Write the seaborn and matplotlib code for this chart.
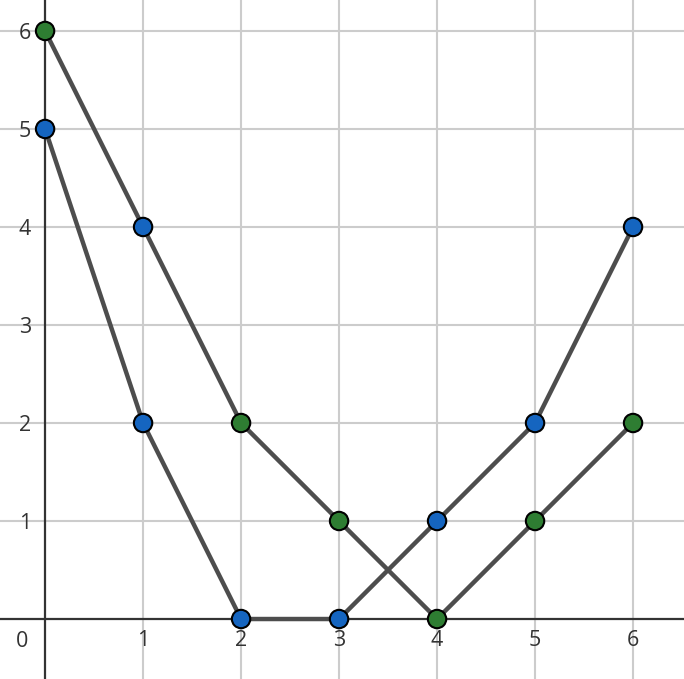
import pandas as pd
import seaborn as sns
import matplotlib.pyplot as plt

# two piecewise paths
x_vals = [0, 1, 2, 3, 4, 5, 6]
path_a = [5, 2, 0, 0, 1, 2, 4]
path_b = [6, 4, 2, 1, 0, 1, 2]
colors_a = ['blue', 'blue', 'blue', 'blue', 'blue', 'blue', 'blue']
colors_b = ['green', 'blue', 'green', 'green', 'green', 'green', 'green']

palette = {'blue': '#1565c0', 'green': '#2e7d32'}

sns.set_style('white')
plt.rcParams['font.family'] = ['Open Sans', 'DejaVu Sans']

df = pd.concat([
    pd.DataFrame({'x': x_vals, 'y': path_a, 'path': 'a', 'c': colors_a}),
    pd.DataFrame({'x': x_vals, 'y': path_b, 'path': 'b', 'c': colors_b}),
], ignore_index=True)

fig = plt.figure(figsize=(6.84, 6.79), dpi=100)
ax = fig.add_axes([0, 0, 1, 1])

for name, g in df.groupby('path'):
    sns.lineplot(data=g, x='x', y='y', color='#4d4d4d', lw=3.2,
                 sort=False, ax=ax, zorder=3)
sns.scatterplot(data=df, x='x', y='y', hue='c', palette=palette, s=175,
                edgecolor='black', linewidth=1.5, legend=False, ax=ax, zorder=4)

ax.set_xlim(-0.46, 6.52)
ax.set_ylim(-0.612, 6.316)
ax.set_xticks(x_vals[1:])
ax.set_yticks(x_vals[1:])
ax.grid(True, color='#cccccc', lw=1.5)
ax.set_xlabel('')
ax.set_ylabel('')

for s in ['top', 'right']:
    ax.spines[s].set_visible(False)
for s in ['left', 'bottom']:
    ax.spines[s].set_position(('data', 0))
    ax.spines[s].set_color('#333333')
    ax.spines[s].set_linewidth(1.6)
    ax.spines[s].set_zorder(2)

ax.tick_params(axis='x', length=0, pad=8, labelsize=15.5, labelcolor='#333333')
ax.tick_params(axis='y', length=0, pad=10, labelsize=15.5, labelcolor='#333333')
ax.text(-0.23, -0.12, '0', ha='center', va='top', fontsize=15.5, color='#333333')

fig.savefig('out.png', dpi=100)
